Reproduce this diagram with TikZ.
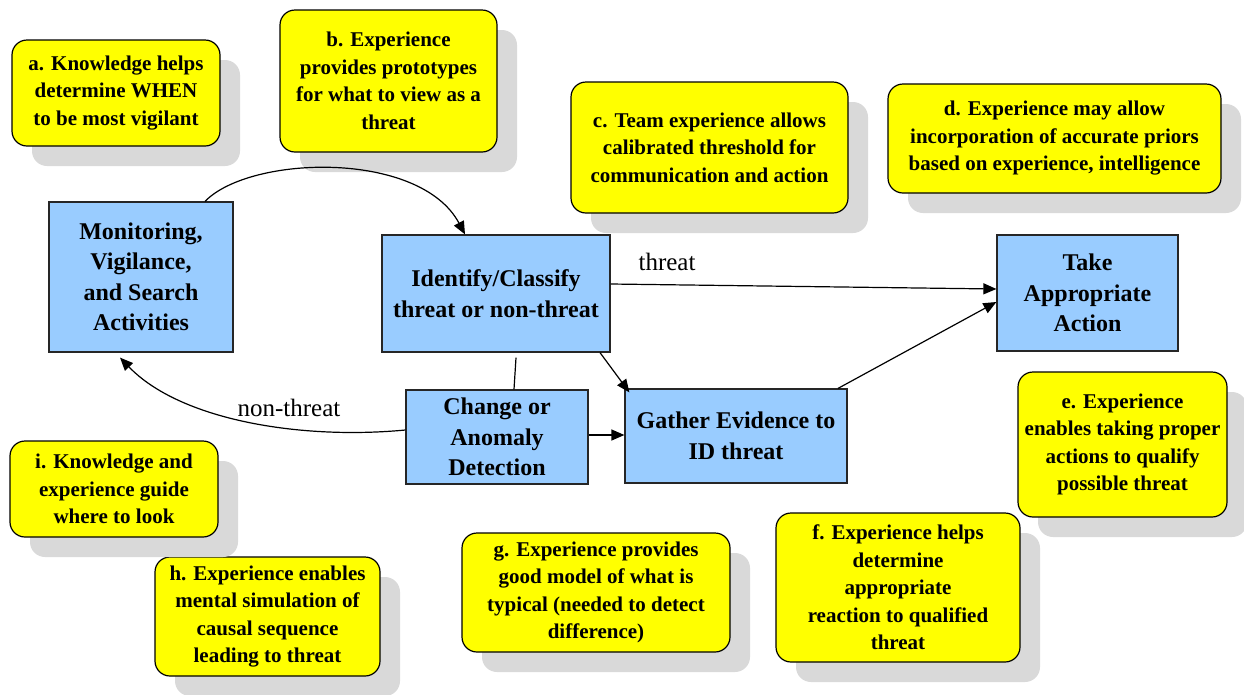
\documentclass[tikz,border=0pt]{standalone}
\usepackage{fontspec}
\setmainfont{Liberation Serif}
\usetikzlibrary{arrows.meta,shadows,calc}
\definecolor{ylw}{RGB}{255,255,0}
\definecolor{blu}{RGB}{153,204,255}
\definecolor{shd}{RGB}{217,217,217}
\begin{document}
\begin{tikzpicture}[x=1pt,y=-1pt,
 note/.style={draw=black, line width=1.2pt, fill=ylw, rounded corners=15pt, align=center,
   font=\fontsize{21}{27.5}\selectfont\bfseries, inner sep=0pt,
   drop shadow={shadow xshift=20pt, shadow yshift=-20pt, fill=shd, opacity=1}},
 proc/.style={draw=black!85, line width=1.2pt, fill=blu, align=center,
   font=\fontsize{24}{30.5}\selectfont\bfseries, inner sep=0pt},
 conn/.style={line width=1.2pt, -{Triangle[length=13pt,width=11pt]}},
 plain/.style={line width=1.2pt},
 lbl/.style={font=\fontsize{25}{28}\selectfont, inner sep=0pt}]
\useasboundingbox (0,0) rectangle (1244,694);

% notes
\node[note, minimum width=208pt, minimum height=106pt] (a) at (116,93)
  {a. Knowledge helps\\determine WHEN\\to be most vigilant};
\node[note, minimum width=217pt, minimum height=142pt] (b) at (388.5,81)
  {b. Experience\\provides prototypes\\for what to view as a\\threat};
\node[note, minimum width=277pt, minimum height=131pt] (c) at (709.5,147.5)
  {c. Team experience allows\\calibrated threshold for\\communication and action};
\node[note, minimum width=333pt, minimum height=109pt] (d) at (1054.5,138.5)
  {d. Experience may allow\\incorporation of accurate priors\\based on experience, intelligence};
\node[note, minimum width=209pt, minimum height=145pt] (e) at (1122.5,444.5)
  {e. Experience\\enables taking proper\\actions to qualify\\possible threat};
\node[note, minimum width=244pt, minimum height=149pt] (f) at (898,587.5)
  {f. Experience helps\\determine\\appropriate\\reaction to qualified\\threat};
\node[note, minimum width=268pt, minimum height=119pt] (g) at (596,592.5)
  {g. Experience provides\\good model of what is\\typical (needed to detect\\difference)};
\node[note, minimum width=225pt, minimum height=119pt] (h) at (267.5,616.5)
  {h. Experience enables\\mental simulation of\\causal sequence\\leading to threat};
\node[note, minimum width=208pt, minimum height=96pt] (i) at (114,489)
  {i. Knowledge and\\experience guide\\where to look};

% process boxes
\node[proc, minimum width=184pt, minimum height=150pt] (mon) at (141,277)
  {Monitoring,\\Vigilance,\\and Search\\Activities};
\node[proc, minimum width=228pt, minimum height=117pt] (ident) at (496,293.5)
  {Identify/Classify\\threat or non-threat};
\node[proc, minimum width=181pt, minimum height=116pt] (take) at (1087.5,293)
  {Take\\Appropriate\\Action};
\node[proc, minimum width=182pt, minimum height=94pt] (change) at (497,437)
  {Change or\\Anomaly\\Detection};
\node[proc, minimum width=222pt, minimum height=94pt] (gather) at (736,436)
  {Gather Evidence to\\ID threat};

% connectors
\draw[conn] ([xshift=64pt]mon.north) .. controls (250,155) and (420,150) .. ([xshift=-31pt]ident.north);
\draw[conn] ([yshift=9.5pt]ident.east) -- ([yshift=4pt]take.west);
\draw[conn] ([xshift=102pt]gather.north) -- ([yshift=-9pt]take.west);
\draw[conn] ([xshift=104pt]ident.south) -- ([xshift=5pt,yshift=-4pt]gather.north west);
\draw[plain] ([xshift=20pt,yshift=-5pt]ident.south) -- ([xshift=17pt]change.north);
\draw[conn] ([yshift=2pt]change.east) -- ([yshift=1pt]gather.west);
\draw[conn] ([yshift=7pt]change.west) .. controls (300,440) and (180,420) .. ([xshift=-21pt,yshift=-5pt]mon.south);

% labels
\node[lbl] (lthreat) at (667,262) {threat};
\node[lbl] (lnon) at (289,408) {non-threat};
\end{tikzpicture}
\end{document}
